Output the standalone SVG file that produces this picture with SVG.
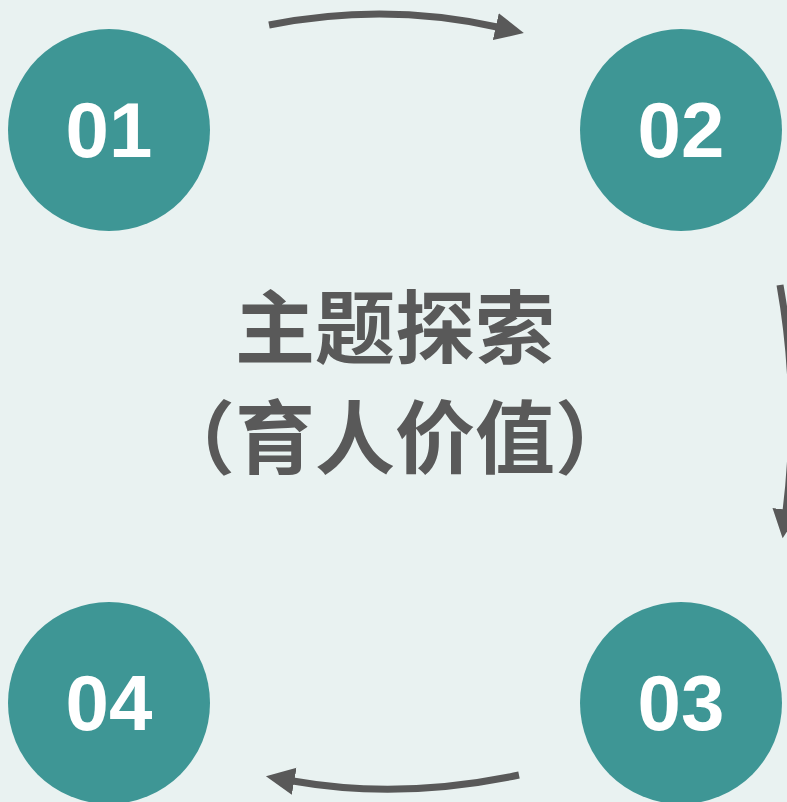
<svg xmlns="http://www.w3.org/2000/svg" width="787" height="802" viewBox="0 0 787 802">
<style>
.bg{fill:#E9F2F1}
.node circle{fill:#3E9695}
.num{font-family:"Liberation Sans",Arial,sans-serif;font-weight:bold;font-size:78px;fill:#FFFFFF;text-anchor:middle}
.title{font-family:"Noto Sans CJK SC","Noto Sans",sans-serif;font-weight:bold;font-size:80px;fill:#595959;text-anchor:middle}
.conn path{fill:none;stroke:#595959;stroke-width:7}
</style>
<defs>
<marker id="ah" markerUnits="userSpaceOnUse" markerWidth="30" markerHeight="30" viewBox="0 -12 24 24" refX="1" refY="0" orient="auto">
<path d="M0,-11 L23,0 L0,11 Z" fill="#595959"/>
</marker>
</defs>
<rect class="bg" x="0" y="0" width="787" height="802"/>
<g id="n01" class="node"><circle cx="109" cy="130" r="101"/><text class="num" x="109" y="157">01</text></g>
<g id="n02" class="node"><circle cx="681" cy="130" r="101"/><text class="num" x="681" y="157">02</text></g>
<g id="n03" class="node"><circle cx="681" cy="703" r="101"/><text class="num" x="681" y="730">03</text></g>
<g id="n04" class="node"><circle cx="109" cy="703" r="101"/><text class="num" x="109" y="730">04</text></g>
<g id="center">
<text class="title" x="395" y="357">主题探索</text>
<text class="title" x="395" y="467">（育人价值）</text>
</g>
<g id="connectors" class="conn">
<path d="M269,25 Q385,2 497,27" marker-end="url(#ah)"/>
<path d="M780,285 Q800,398 786,511" marker-end="url(#ah)"/>
<path d="M519,775 Q400,800 293,781" marker-end="url(#ah)"/>
</g>
</svg>
